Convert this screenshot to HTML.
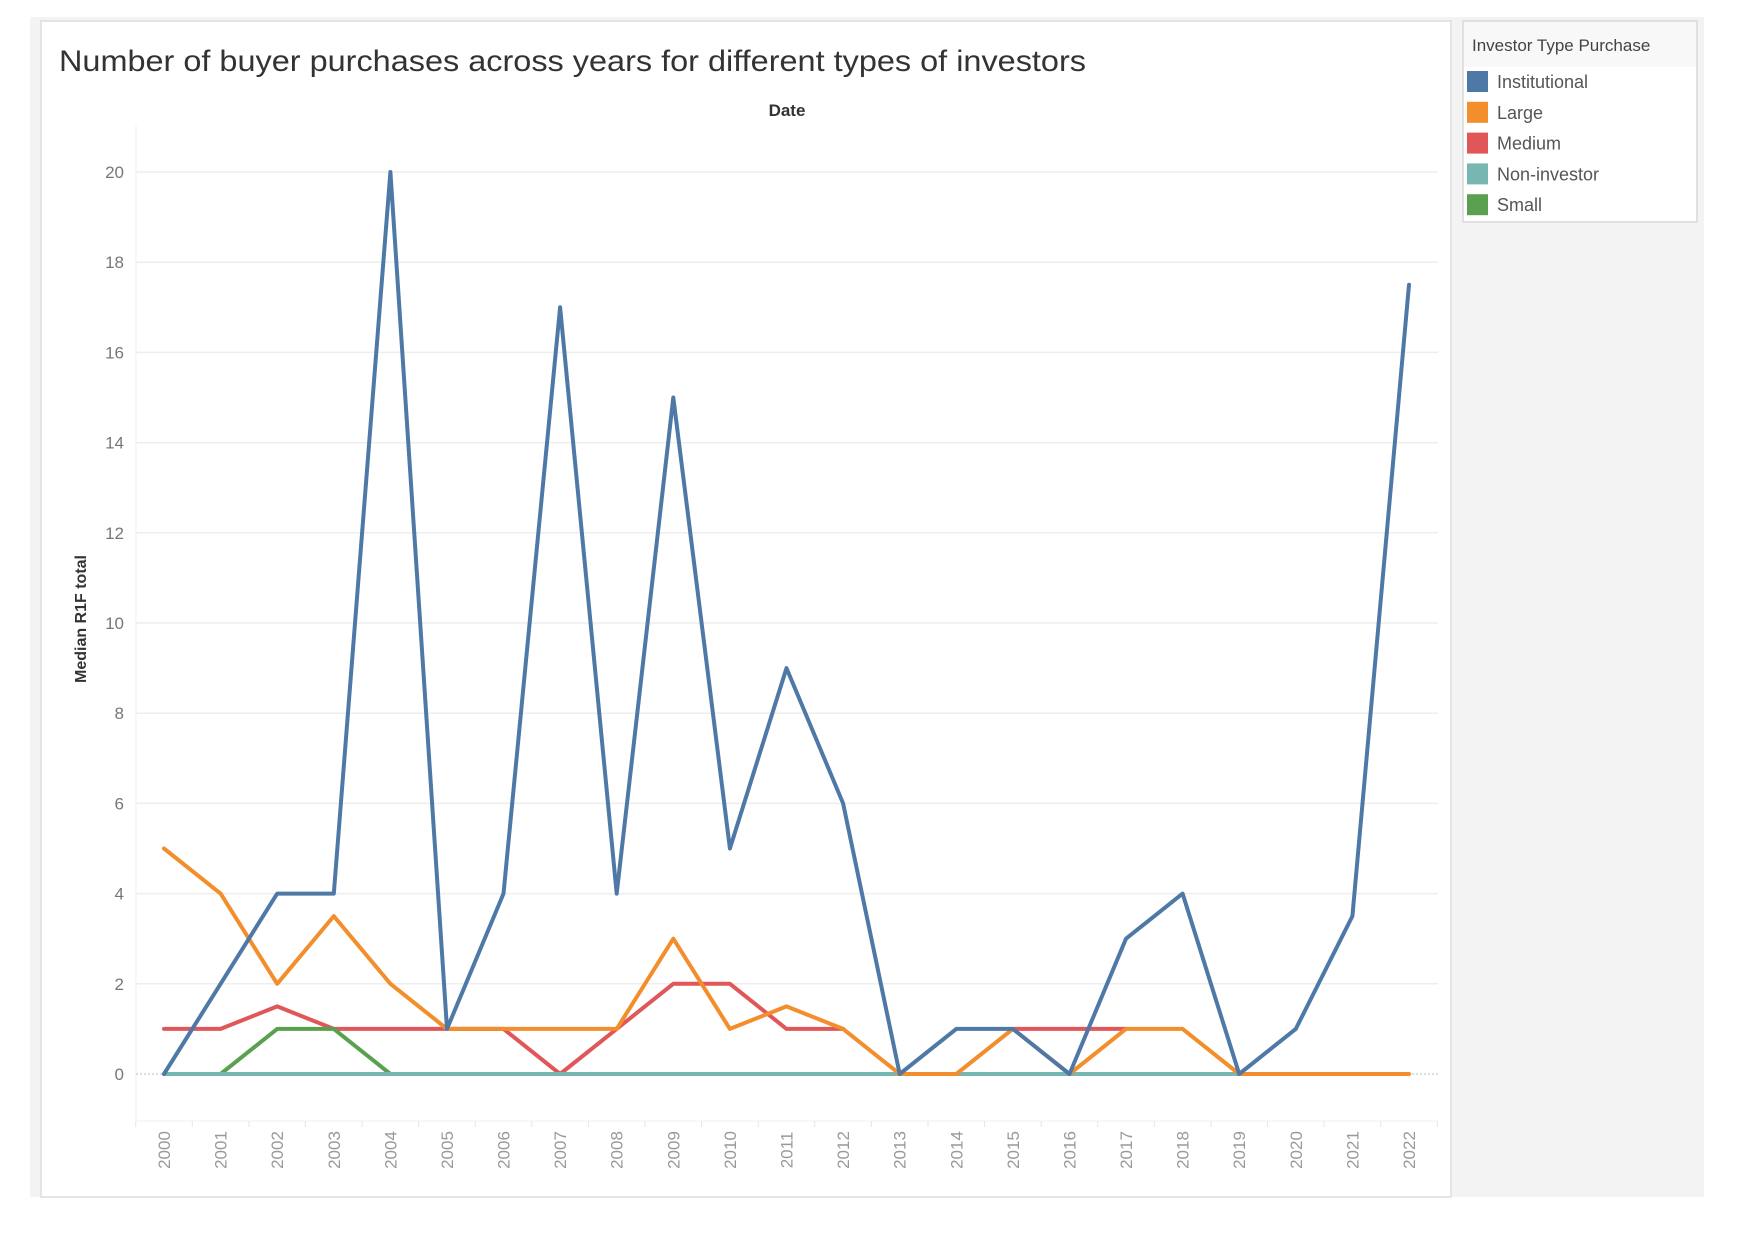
<!DOCTYPE html>
<html><head><meta charset="utf-8"><style>
html,body{margin:0;padding:0;background:#fff;}
svg{display:block;font-family:"Liberation Sans",sans-serif;}
</style></head><body>
<svg id="chart" width="1752" height="1240" viewBox="0 0 1752 1240">
<rect x="30" y="17" width="1674" height="1180" fill="#f3f3f3"/>
<rect x="41" y="21" width="1410" height="1176" fill="#fff" stroke="#e4e4e4" stroke-width="2"/>
<text x="59" y="71" font-size="30" fill="#333" textLength="1027" lengthAdjust="spacingAndGlyphs">Number of buyer purchases across years for different types of investors</text>
<text x="787" y="116" font-size="17" font-weight="bold" fill="#333" text-anchor="middle">Date</text>
<text transform="translate(86,619) rotate(-90)" font-size="16" font-weight="bold" fill="#333" text-anchor="middle">Median R1F total</text>
<g id="grid"></g>
<g id="axes"></g>
<g id="lines"></g>
<g>
<rect x="1463" y="21" width="234" height="201" fill="#fff" stroke="#e0e0e0" stroke-width="2"/>
<rect x="1464" y="22" width="232" height="45" fill="#f8f8f8"/>
<text x="1472" y="51" font-size="17" fill="#444">Investor Type Purchase</text>
<g id="legend-items"></g>
</g>
</svg>
<script>
const years = ["2000","2001","2002","2003","2004","2005","2006","2007","2008","2009","2010","2011","2012","2013","2014","2015","2016","2017","2018","2019","2020","2021","2022"];
const yTicks = [0,2,4,6,8,10,12,14,16,18,20];
const institutional = [0,2,4,4,20,1,4,17,4,15,5,9,6,0,1,1,0,3,4,0,1,3.5,17.5];
const large = [5,4,2,3.5,2,1,1,1,1,3,1,1.5,1,0,0,1,0,1,1,0,0,0,0];
const medium = [1,1,1.5,1,1,1,1,0,1,2,2,1,1,null,null,1,1,1,null,null,null,null,null];
const nonInvestor = [0,0,0,0,0,0,0,0,0,0,0,0,0,0,0,0,0,0,0,0,null,null,null];
const small = [null,0,1,1,0,null,null,null,null,null,null,null,null,null,null,null,null,null,null,null,null,null,null];
const seriesNames = ["Institutional","Large","Medium","Non-investor","Small"];

const NS="http://www.w3.org/2000/svg";
const x0=164, x1=1409, yZero=1074, yTop=172;
const xs=i=>x0+i*(x1-x0)/(years.length-1);
const ys=v=>yZero-(v/20)*(yZero-yTop);
const plotL=136, plotR=1438, plotT=125, plotB=1121;
function mk(tag,attrs,parent){const e=document.createElementNS(NS,tag);for(const k in attrs)e.setAttribute(k,attrs[k]);parent.appendChild(e);return e;}
const grid=document.getElementById('grid'), axes=document.getElementById('axes'), lines=document.getElementById('lines');
mk('line',{x1:plotL,y1:plotT,x2:plotL,y2:plotB,stroke:'#f0f0f0','stroke-width':1},grid);
mk('line',{x1:plotL,y1:plotB,x2:plotR,y2:plotB,stroke:'#f0f0f0','stroke-width':1},grid);
yTicks.forEach(t=>{
  if(t>0){const g=mk('line',{x1:plotL,y1:ys(t),x2:plotR,y2:ys(t),stroke:'#eeeeee','stroke-width':1.5},grid);
  
  }
  const tx=mk('text',{x:124,y:ys(t)+6,'font-size':17,fill:'#777','text-anchor':'end'},axes);
  tx.textContent=t;
  
  
});
const zl=mk('line',{x1:plotL,y1:yZero,x2:plotR,y2:yZero,stroke:'#bbb','stroke-width':1,'stroke-dasharray':'2,2'},grid);


const step=(x1-x0)/(years.length-1);
years.forEach((yr,i)=>{
  const bx=xs(i)-step/2;
  mk('line',{x1:bx,y1:plotB,x2:bx,y2:plotB+6,stroke:'#e6e6e6','stroke-width':1},axes);
  const tx=mk('text',{transform:`translate(${xs(i)+6},1150) rotate(-90)`,'font-size':17,fill:'#999','text-anchor':'middle'},axes);
  tx.textContent=yr;
  
  
});
mk('line',{x1:xs(years.length-1)+step/2,y1:plotB,x2:xs(years.length-1)+step/2,y2:plotB+6,stroke:'#e6e6e6'},axes);
const colors={"Institutional":"#4e79a7","Large":"#f28e2b","Medium":"#e15759","Non-investor":"#76b7b2","Small":"#59a14f"};
function draw(data,name){
  let segs=[],cur=[];
  data.forEach((v,i)=>{if(v===null){if(cur.length)segs.push(cur);cur=[];}else cur.push([xs(i),ys(v)]);});
  if(cur.length)segs.push(cur);
  segs.forEach(s=>{
    const p=mk('path',{d:'M'+s.map(q=>q[0].toFixed(1)+','+q[1].toFixed(1)).join('L'),fill:'none',stroke:colors[name],'stroke-width':4,'stroke-linejoin':'round','stroke-linecap':'round'},lines);
    
    
  });
}
draw(medium,"Medium");
draw(small,"Small");
draw(nonInvestor,"Non-investor");
draw(large,"Large");
draw(institutional,"Institutional");
const li=document.getElementById('legend-items');
seriesNames.forEach((n,i)=>{
  const cy=82+i*30.8;
  const r=mk('rect',{x:1467,y:cy-11,width:21,height:21,fill:colors[n]},li);
  
  
  const t=mk('text',{x:1497,y:cy+6,'font-size':18,fill:'#555'},li);
  t.textContent=n;
  
  
});
</script>
</body></html>
